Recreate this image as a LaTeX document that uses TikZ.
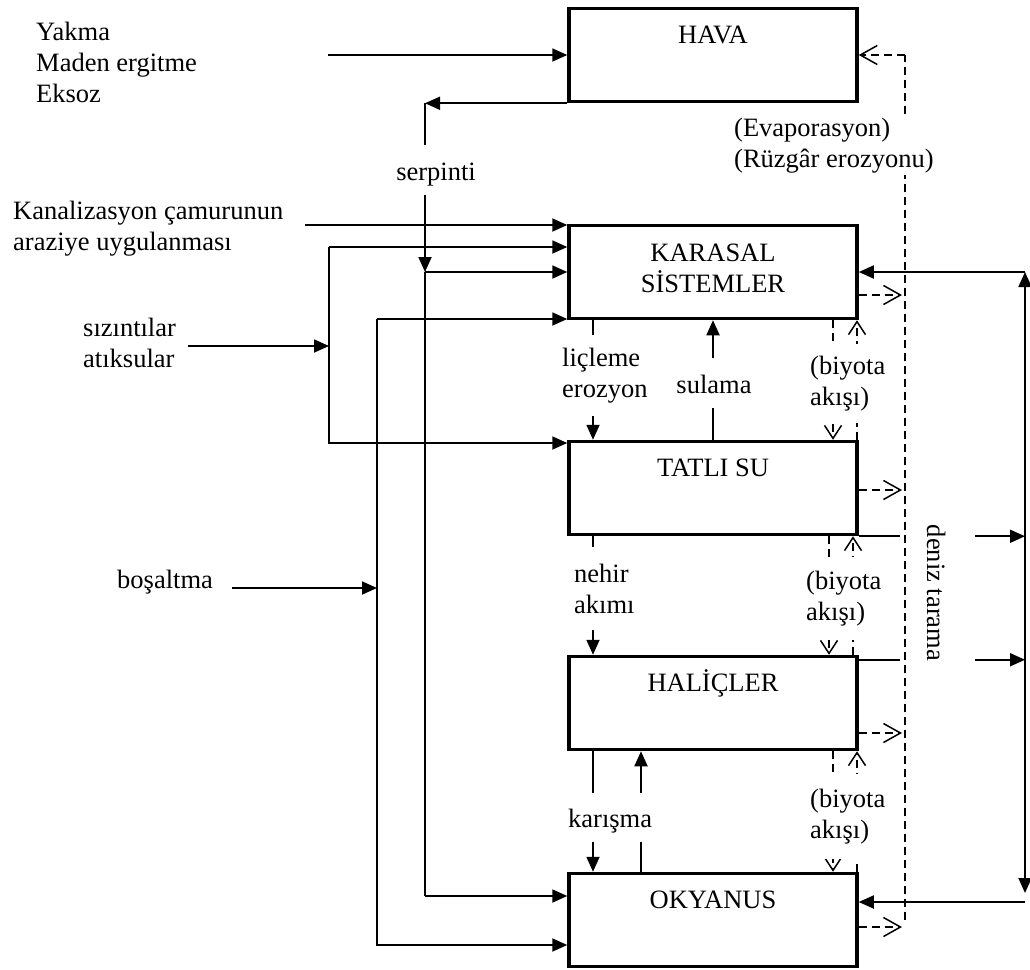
\documentclass[tikz,border=0pt]{standalone}
\usepackage{fontspec}
\setmainfont{Liberation Serif}
\usetikzlibrary{arrows.meta,positioning}
\newcommand\yazi{\fontsize{26.5}{31}\selectfont}

\begin{document}
\begin{tikzpicture}[x=1pt,y=-1pt,
  kutu/.style={draw,line width=3.5pt,minimum width=288pt,minimum height=93pt,inner sep=0pt},
  ince/.style={line width=1.8pt},
  ok/.style={ince,-{Triangle[length=15pt,width=13pt]}},
  ciftok/.style={ince,{Triangle[length=15pt,width=13pt]}-{Triangle[length=15pt,width=13pt]}},
  kesik/.style={line width=1.5pt,dash pattern=on 8pt off 5pt},
  kesikok/.style={kesik,-{Straight Barb[length=17pt,width=19pt]}},
  kesikv/.style={kesik,-{Straight Barb[length=13pt,width=17pt]}},
  metin/.style={font=\yazi,inner sep=0pt},
  ara/.style={metin,fill=white,inner xsep=1pt},
  every node/.style={metin}]
\useasboundingbox (0,0) rectangle (1030,969);

% kutular
\node[kutu] (hava) at (713,55) {};
\node[kutu] (kara) at (713,272) {};
\node[kutu] (tatli) at (713,488) {};
\node[kutu] (hal) at (713,703) {};
\node[kutu] (okya) at (713,920) {};
\node[anchor=base] (havay) at ([yshift=-37pt]hava.north) {HAVA};
\node[anchor=base,align=center] (karay) at ([yshift=-69pt]kara.north) {KARASAL\\SİSTEMLER};
\node[anchor=base] (tatliy) at ([yshift=-37pt]tatli.north) {TATLI SU};
\node[anchor=base] (haly) at ([yshift=-37pt]hal.north) {HALİÇLER};
\node[anchor=base] (okyay) at ([yshift=-37pt]okya.north) {OKYANUS};

% kaynaklar
\node[anchor=base west,align=left] (kaynak) at (36,102) {Yakma\\Maden ergitme\\Eksoz};
\node[anchor=base west,align=left] (kanal) at (13,250) {Kanalizasyon çamurunun\\araziye uygulanması};
\node[anchor=base west,align=left] (sizinti) at (83,367) {sızıntılar\\atıksular};
\node[anchor=base west] (bosalt) at (117,588) {boşaltma};

\coordinate (yk) at (328,55);
\coordinate (s2) at (425,272);
\coordinate (s3) at (425,896);
\coordinate (kn) at (305,225);
\coordinate (sz1) at (329,247);
\coordinate (sz2) at (329,443);
\coordinate (szg) at (188,346);
\coordinate (bs1) at (377,319);
\coordinate (bs2) at (377,945);
\coordinate (bsg) at (232,588);
\coordinate (ev1) at (905,55);
\coordinate (ev2) at (905,920);
\coordinate (dt1) at (1025,272);
\coordinate (dt2) at (1025,902);

% sol taraf
\draw[ok] (yk) -- (yk -| hava.west);
\draw[ok] (hava.south west) -- (hava.south west -| s2);
\draw[ok] (hava.south west -| s2) -- (s2);
\draw[ince] (s2) -- (s3);
\draw[ok] (s2) -- (s2 -| kara.west);
\draw[ok] (s3) -- (s3 -| okya.west);
\draw[ok] (kn) -- (kn -| kara.west);
\draw[ok] (sz1) -- (sz1 -| kara.west);
\draw[ok] (sz1) -- (sz2) -- (sz2 -| tatli.west);
\draw[ok] (szg) -- (szg -| sz1);
\draw[ok] (bs1) -- (bs1 -| kara.west);
\draw[ok] (bs1) -- (bs2) -- (bs2 -| okya.west);
\draw[ok] (bsg) -- (bsg -| bs1);

% kutular arasi
\draw[ok] ([xshift=-120pt]kara.south) -- ([xshift=-120pt]tatli.north);
\draw[ok] (tatli.north) -- (kara.south);
\draw[ok] ([xshift=-120pt]tatli.south) -- ([xshift=-120pt]hal.north);
\draw[ok] ([xshift=-120pt]hal.south) -- ([xshift=-120pt]okya.north);
\draw[ok] ([xshift=-72pt]okya.north) -- ([xshift=-72pt]hal.south);

% sag taraf
\draw[ciftok] (dt1) -- ([yshift=9pt]dt2);
\draw[ok] (dt1) -- (dt1 -| kara.east);
\draw[ok] (dt2) -- (dt2 -| okya.east);
\draw[ok] (tatli.south east) -- (tatli.south east -| dt1);
\draw[ok] ([yshift=-5pt]hal.north east) -- ([yshift=-5pt]hal.north east -| dt1);
\node[ara,rotate=-90,anchor=base,text height=48pt,text depth=27pt,inner xsep=5pt] (deniz) at (927,593) {deniz tarama};

% kesikli akislar
\draw[kesik] (ev2) -- (ev1);
\draw[kesikok] (ev1) -- (ev1 -| hava.east);
\draw[kesikok,shorten >=3pt] ([yshift=-23pt]kara.east) -- ([yshift=-23pt]kara.east -| ev1);
\draw[kesikok,shorten >=3pt] ([yshift=-2pt]tatli.east) -- ([yshift=-2pt]tatli.east -| ev1);
\draw[kesikok,shorten >=3pt] ([yshift=-30pt]hal.east) -- ([yshift=-30pt]hal.east -| ev1);
\draw[kesikok,shorten >=3pt] ([yshift=-7pt]okya.east) -- ([yshift=-7pt]okya.east -| ev1);
\draw[kesikv] ([xshift=120pt]kara.south) -- ([xshift=120pt]tatli.north);
\draw[kesikv] ([xshift=144pt]tatli.north) -- ([xshift=144pt]kara.south);
\draw[kesikv] ([xshift=116pt]tatli.south) -- ([xshift=116pt]hal.north);
\draw[kesikv] ([xshift=140pt]hal.north) -- ([xshift=140pt]tatli.south);
\draw[kesikv] ([xshift=120pt]hal.south) -- ([xshift=120pt]okya.north);
\draw[kesikv] ([xshift=144pt]okya.north) -- ([xshift=144pt]hal.south);

% etiketler
\node[ara,anchor=base,text height=35pt,text depth=15pt] (serp) at (436,180) {serpinti};
\node[ara,anchor=base west,align=left,inner ysep=13pt] (lic) at (561,397) {liçleme\\erozyon};
\node[ara,anchor=base,text height=35pt,text depth=15pt] (sul) at (714,393) {sulama};
\node[ara,anchor=base west,align=left,inner ysep=17pt] (nehir) at (573,613) {nehir\\akımı};
\node[ara,anchor=base west,text height=34pt,text depth=15pt] (kar) at (567,827) {karışma};
\node[ara,anchor=base west,align=left,inner ysep=12pt] (bio1) at (809,405) {(biyota\\akışı)};
\node[ara,anchor=base west,align=left,inner ysep=14pt] (bio2) at (805,620) {(biyota\\akışı)};
\node[ara,anchor=base west,align=left,inner ysep=15pt] (bio3) at (809,838) {(biyota\\akışı)};
\node[ara,anchor=base west,align=left,inner ysep=2pt] (evap) at (733,167) {(Evaporasyon)\\(Rüzgâr erozyonu)};
\end{tikzpicture}
\end{document}
